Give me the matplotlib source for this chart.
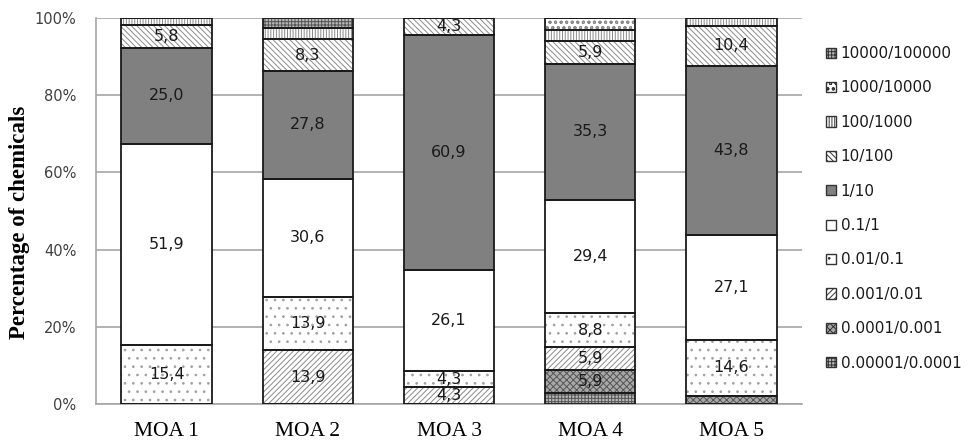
import matplotlib
matplotlib.use("Agg")
import matplotlib.pyplot as plt
import matplotlib.patches as mpatches
import numpy as np

# categories and series (percent of chemicals per concentration band)
groups = ['MOA 1', 'MOA 2', 'MOA 3', 'MOA 4', 'MOA 5']
bands = ['0.00001/0.0001', '0.0001/0.001', '0.001/0.01', '0.01/0.1', '0.1/1',
         '1/10', '10/100', '100/1000', '1000/10000', '10000/100000']

b_00001 = [0.0, 0.0, 0.0, 2.9, 0.0]
b_0001 = [0.0, 0.0, 0.0, 5.9, 2.1]
b_001 = [0.0, 13.9, 4.3, 5.9, 0.0]
b_01 = [15.4, 13.9, 4.3, 8.8, 14.6]
b_1 = [51.9, 30.6, 26.1, 29.4, 27.1]
b_10 = [25.0, 27.8, 60.9, 35.3, 43.8]
b_100 = [5.8, 8.3, 4.3, 5.9, 10.4]
b_1000 = [1.9, 2.8, 0.0, 2.9, 2.1]
b_10000 = [0.0, 0.0, 0.0, 2.9, 0.0]
b_100000 = [0.0, 2.8, 0.0, 0.0, 0.0]

series = [b_00001, b_0001, b_001, b_01, b_1, b_10, b_100, b_1000, b_10000, b_100000]

# look of each band: face colour, hatch, hatch colour
styles = [
    ('#b8b8b8', '+++++', '#555555'),
    ('#a8a8a8', 'xxxxx', '#555555'),
    ('white', '//////', '#8a8a8a'),
    ('white', '..', '#a0a0a0'),
    ('white', '', 'black'),
    ('#808080', '', '#808080'),
    ('white', '\\\\\\\\\\\\', '#8a8a8a'),
    ('white', '||||||', '#8a8a8a'),
    ('white', 'ooo', '#8a8a8a'),
    ('#b8b8b8', '+++++', '#555555'),
]

plt.rcParams['hatch.linewidth'] = 0.7

fig = plt.figure(figsize=(9.68, 4.4), dpi=100)
ax = fig.add_axes([96 / 968, 1 - 404 / 440, 706 / 968, 386 / 440])

x = np.arange(len(groups))
width = 0.64
bottom = np.zeros(len(groups))
for vals, (fc, hatch, hc) in zip(series, styles):
    vals = np.array(vals)
    ax.bar(x, vals, width, bottom=bottom, color=fc, edgecolor=hc, hatch=hatch,
           linewidth=0, zorder=2)
    ax.bar(x, vals, width, bottom=bottom, fill=False, edgecolor='#1a1a1a',
           linewidth=1.3, zorder=3)
    for xi, v, b in zip(x, vals, bottom):
        if v >= 4:
            ax.text(xi, b + v / 2, f"{v:.1f}".replace('.', ','), ha='center',
                    va='center', fontsize=11.5, color='#1a1a1a', zorder=4)
    bottom += vals

ax.set_xlim(-0.5, len(groups) - 0.5)
ax.set_ylim(0, 100)
ax.set_yticks(np.arange(0, 101, 20))
ax.set_yticklabels([f"{t}%" for t in range(0, 101, 20)], fontsize=10.5, color='#404040')
ax.set_xticks(x)
ax.set_xticklabels(groups, family='Liberation Serif', fontsize=15.5)
ax.tick_params(axis='both', length=0)
ax.tick_params(axis='y', pad=14)
ax.tick_params(axis='x', pad=13)
ax.yaxis.grid(True, color='#a6a6a6', linewidth=1.2, zorder=0)
ax.set_axisbelow(True)
for s in ['top', 'right']:
    ax.spines[s].set_visible(False)
for s in ['left', 'bottom']:
    ax.spines[s].set_color('#a6a6a6')
    ax.spines[s].set_linewidth(1.2)

ax.set_ylabel('Percentage of chemicals', family='Liberation Serif',
              fontweight='bold', fontsize=16.5)
ax.yaxis.set_label_coords(-0.094, 0.47)

handles = []
for lab, (fc, hatch, hc) in zip(bands, styles):
    handles.append(mpatches.Patch(facecolor=fc, hatch=hatch, edgecolor='#333333',
                                  linewidth=1, label=lab))
fig.legend(handles[::-1], bands[::-1], loc='upper left',
           bbox_to_anchor=(826 / 968, 1 - 46 / 440), frameon=False,
           fontsize=11, handlelength=0.65, handleheight=0.65, handletextpad=0.3,
           labelspacing=1.27, borderpad=0, borderaxespad=0, labelcolor='#1a1a1a')

fig.savefig('out.png', dpi=100)
